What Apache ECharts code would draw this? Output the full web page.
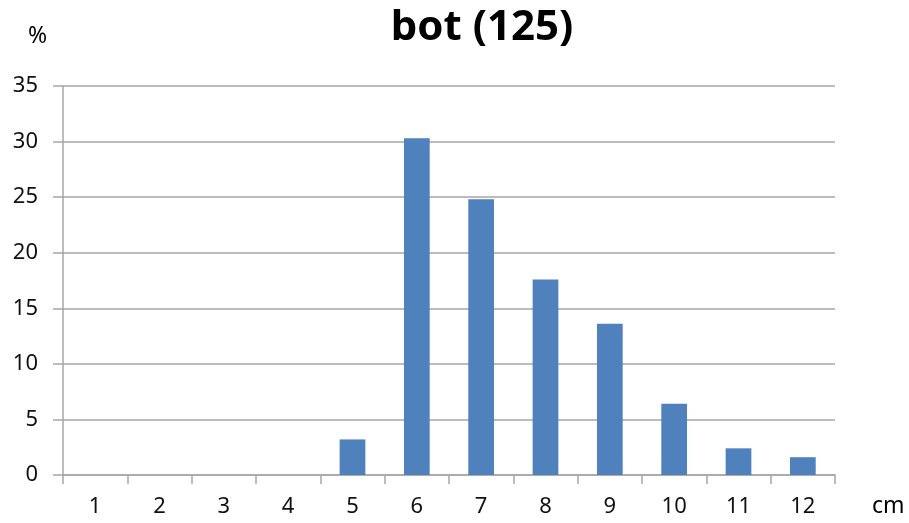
<!DOCTYPE html>
<html>
<head>
<meta charset="utf-8">
<script src="https://cdn.jsdelivr.net/npm/echarts@6/dist/echarts.min.js"></script>
<style>
    html, body { margin: 0; padding: 0; background: #fff; }
    #myChart { width: 909px; height: 523px; }
</style>
</head>
<body>
<div id="myChart"></div>
<script>
    // 类别（cm）和百分比
    var categories = ['1', '2', '3', '4', '5', '6', '7', '8', '9', '10', '11', '12'];
    var percents = [0, 0, 0, 0, 3.2, 30.3, 24.8, 17.6, 13.6, 6.4, 2.4, 1.6];
    var yTicks = { min: 0, max: 35, interval: 5 };

    var font = '"Noto Sans", "Open Sans", sans-serif';
    var gray = '#a6a6a6';

    var myChart = echarts.init(document.getElementById('myChart'));
    var option = {
        backgroundColor: '#fff',
        animation: false,
        title: {
            text: 'bot (125)',
            left: 477,
            top: 2,
            textAlign: 'center',
            textStyle: {
                fontFamily: font,
                fontSize: 42,
                fontWeight: 'bold',
                color: '#000'
            }
        },
        grid: {
            left: 63,
            right: 74,
            top: 86,
            bottom: 48
        },
        xAxis: {
            type: 'category',
            data: categories,
            name: 'cm',
            nameLocation: 'end',
            nameGap: 37,
            nameTextStyle: {
                fontFamily: font,
                fontSize: 23,
                color: '#000',
                verticalAlign: 'top',
                lineHeight: 26,
                padding: [18, 0, 0, 0]
            },
            axisLine: { lineStyle: { color: gray, width: 1.5 } },
            axisTick: { show: true, length: 9, alignWithLabel: false, lineStyle: { color: gray, width: 1.5 } },
            axisLabel: {
                margin: 21,
                fontFamily: font,
                fontSize: 22,
                color: '#111'
            }
        },
        yAxis: {
            type: 'value',
            min: yTicks.min,
            max: yTicks.max,
            interval: yTicks.interval,
            name: '%',
            nameLocation: 'end',
            nameGap: 38,
            nameTextStyle: {
                fontFamily: font,
                fontSize: 23,
                color: '#000',
                align: 'right',
                padding: [0, 16, 0, 0]
            },
            axisLine: { show: true, lineStyle: { color: gray, width: 1.5 } },
            axisTick: { show: true, length: 10, lineStyle: { color: gray, width: 1.5 } },
            splitLine: { show: true, lineStyle: { color: gray, width: 1.5 } },
            axisLabel: {
                margin: 25,
                fontFamily: font,
                fontSize: 22,
                color: '#111'
            }
        },
        series: [{
            type: 'bar',
            data: percents,
            barWidth: '40%',
            itemStyle: {
                color: '#4f81bd'
            }
        }]
    };
    myChart.setOption(option);
</script>
</body>
</html>
